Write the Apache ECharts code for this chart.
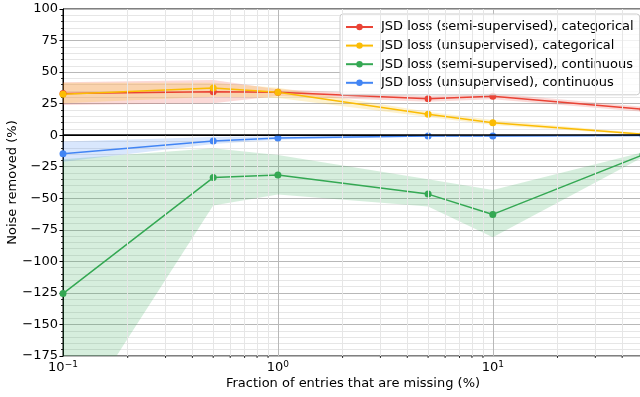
<!DOCTYPE html>
<html>
<head>
<meta charset="utf-8">
<script src="https://cdn.jsdelivr.net/npm/echarts@6/dist/echarts.min.js"></script>
<style>html,body{margin:0;padding:0;background:#fff}#c{width:640px;height:397px}</style>
</head>
<body>
<div id="c"></div>
<script>
// ---- data ----
const xValues = [0.1, 0.5, 1, 5, 10, 50];
const seriesNames = [
  'JSD loss (semi-supervised), categorical',
  'JSD loss (unsupervised), categorical',
  'JSD loss (semi-supervised), continuous',
  'JSD loss (unsupervised), continuous'
];
const semiCat    = [33, 34.5, 34, 28.8, 30.8, 20.5];
const semiCatLo  = [24, 25.3, 31, 26.5, 28.5, 18.5];
const semiCatHi  = [42, 43.7, 36.5, 31, 33.3, 22.5];
const unsupCat   = [32.5, 37.4, 34, 16.5, 9.9, 0.8];
const unsupCatLo = [25.3, 30.5, 29.5, 14.5, 8, 0];
const unsupCatHi = [41.5, 41.5, 37.5, 18.5, 12, 1.6];
const semiCon    = [-125.5, -33.6, -31.5, -46.7, -62.8, -15.5];
const semiConLo  = [-241, -55.8, -47.1, -56.6, -80.9, -17.5];
const semiConHi  = [-19, -10.4, -15.7, -35, -43.5, -13.5];
const unsupCon   = [-14.8, -4.6, -2.3, -0.6, -0.6, -0.3];
const unsupConLo = [-21, -7, -3.6, -1.1, -1.1, -0.7];
const unsupConHi = [-5, -1.5, -1, 0, 0, 0];
const yTicks = [-175, -150, -125, -100, -75, -50, -25, 0, 25, 50, 75, 100];
const xMinorLines = [0.2,0.3,0.4,0.5,0.6,0.7,0.8,0.9,2,3,4,5,6,7,8,9,20,30,40];

const colors = ['#EA4335', '#FBBC04', '#34A853', '#4285F4'];
const mains = [semiCat, unsupCat, semiCon, unsupCon];
const los = [semiCatLo, unsupCatLo, semiConLo, unsupConLo];
const his = [semiCatHi, unsupCatHi, semiConHi, unsupConHi];

const FONT = 'DejaVu Sans';
const Y_MIN = -175, Y_MAX = 100;
const series = [];

// bands
mains.forEach((m, k) => {
  series.push({
    type: 'custom',
    coordinateSystem: 'cartesian2d',
    clip: true,
    silent: true,
    z: 1,
    encode: {x: 0, y: 1},
    data: xValues.map((x, i) => [x, los[k][i], his[k][i]]),
    renderItem: function (params, api) {
      if (params.dataIndex !== 0) return null;
      const pts = [];
      for (let i = 0; i < xValues.length; i++) pts.push(api.coord([xValues[i], his[k][i]]));
      for (let i = xValues.length - 1; i >= 0; i--) pts.push(api.coord([xValues[i], los[k][i]]));
      return {type: 'polygon', shape: {points: pts}, style: {fill: colors[k], opacity: 0.2}};
    }
  });
});

// minor x ticks on the bottom axis
series.push({
  type: 'custom',
  coordinateSystem: 'cartesian2d',
  clip: false,
  silent: true,
  z: 5,
  encode: {x: 0, y: 1},
  data: xMinorLines.map(v => [v, Y_MIN]),
  renderItem: function (params, api) {
    const p = api.coord([api.value(0), Y_MIN]);
    return {type: 'line', shape: {x1: p[0], y1: p[1], x2: p[0], y2: p[1] + 2}, style: {stroke: '#000', lineWidth: 0.8}};
  }
});

// minor x grid + zero line
series.push({
  type: 'line',
  data: [[0.1, 0]],
  symbol: 'none',
  lineStyle: {opacity: 0},
  silent: true,
  z: 0,
  markLine: {
    silent: true,
    symbol: 'none',
    label: {show: false},
    animation: false,
    data: xMinorLines.map(v => ({xAxis: v, lineStyle: {color: '#e6e6e6', width: 1, type: 'solid'}}))
  }
});
series.push({
  type: 'line',
  data: [[0.1, 0]],
  symbol: 'none',
  lineStyle: {opacity: 0},
  silent: true,
  z: 2,
  markLine: {
    silent: true,
    symbol: 'none',
    label: {show: false},
    animation: false,
    data: [{yAxis: 0, lineStyle: {color: '#000', width: 1.5, type: 'solid'}}]
  }
});

// main lines
mains.forEach((m, k) => {
  series.push({
    name: seriesNames[k],
    type: 'line',
    data: xValues.map((x, i) => [x, m[i]]),
    symbol: 'circle',
    symbolSize: 7,
    showAllSymbol: true,
    clip: true,
    z: 3,
    color: colors[k],
    lineStyle: {width: 1.5, color: colors[k]},
    itemStyle: {color: colors[k]}
  });
});

const chart = echarts.init(document.getElementById('c'), null, {renderer: 'canvas'});
chart.setOption({
  animation: false,
  backgroundColor: '#fff',
  textStyle: {fontFamily: FONT},
  grid: {left: 63, right: -3, top: 9, bottom: 41, show: true, borderColor: '#000', borderWidth: 1, containLabel: false, outerBoundsMode: 'none'},
  legend: {
    data: seriesNames,
    left: 340,
    top: 14,
    orient: 'vertical',
    itemWidth: 27,
    itemHeight: 8,
    itemGap: 4.6,
    padding: [6, 6, 5, 5],
    backgroundColor: 'rgba(255,255,255,0.8)',
    borderColor: '#cccccc',
    borderWidth: 1,
    borderRadius: 3,
    textStyle: {fontFamily: FONT, fontSize: 13, color: '#000', lineHeight: 14, padding: [0, 0, 0, 3]}
  },
  xAxis: {
    type: 'log',
    logBase: 10,
    min: 0.1,
    max: 50,
    name: 'Fraction of entries that are missing (%)',
    nameLocation: 'middle',
    nameGap: 21,
    nameMoveOverlap: false,
    nameTextStyle: {fontFamily: FONT, fontSize: 13, color: '#000'},
    axisLine: {show: true, lineStyle: {color: '#000', width: 1}},
    axisTick: {show: true, length: 3.5, lineStyle: {color: '#000', width: 1}},
    splitLine: {show: true, lineStyle: {color: '#b8b8b8', width: 1}},
    axisLabel: {
      margin: 4,
      color: '#000',
      formatter: function (v) {
        const e = Math.log10(v);
        if (Math.abs(e - Math.round(e)) > 1e-6) return '';
        const r = Math.round(e);
        return '{b|10}{s|' + String(r).replace('-', '\u2212') + '}';
      },
      rich: {
        b: {fontFamily: FONT, fontSize: 13, color: '#000'},
        s: {fontFamily: FONT, fontSize: 9, color: '#000', padding: [0, 0, 6, 0]}
      }
    }
  },
  yAxis: {
    type: 'value',
    min: Y_MIN,
    max: Y_MAX,
    interval: 25,
    name: 'Noise removed (%)',
    nameLocation: 'middle',
    nameGap: 44,
    nameRotate: 90,
    nameMoveOverlap: false,
    nameTextStyle: {fontFamily: FONT, fontSize: 13, color: '#000'},
    axisLine: {show: true, lineStyle: {color: '#000', width: 1}},
    axisTick: {show: true, length: 3.5, lineStyle: {color: '#000', width: 1}},
    minorTick: {show: true, splitNumber: 5, length: 2, lineStyle: {color: '#000', width: 0.8}},
    splitLine: {show: true, lineStyle: {color: '#b8b8b8', width: 1}},
    minorSplitLine: {show: true, lineStyle: {color: '#e6e6e6', width: 1}},
    axisLabel: {
      margin: 5,
      color: '#000',
      fontFamily: FONT,
      fontSize: 13,
      formatter: function (v) { return yTicks.indexOf(v) >= 0 ? String(v).replace('-', '\u2212') : ''; }
    }
  },
  series: series
});
</script>
</body>
</html>
